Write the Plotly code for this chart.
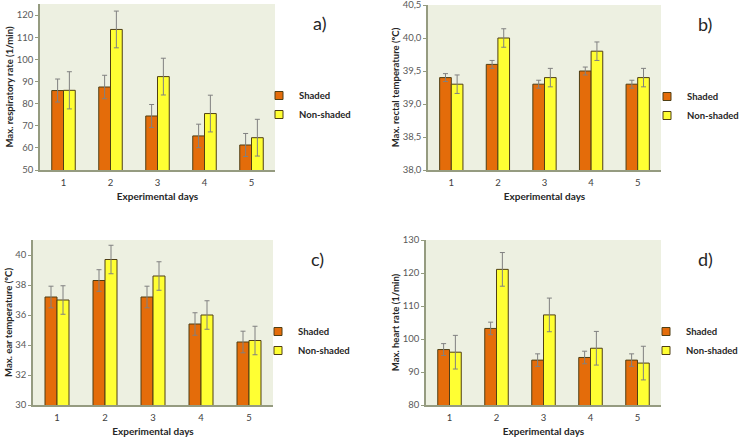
import plotly.graph_objects as go

days = ["1", "2", "3", "4", "5"]

resp_shaded = [85.9, 87.5, 74.4, 65.4, 61.3]
resp_shaded_err = [5.2, 5.3, 5.2, 5.3, 5.2]
resp_non = [86.0, 113.5, 92.2, 75.5, 64.6]
resp_non_err = [8.4, 8.3, 8.3, 8.3, 8.3]

rect_shaded = [39.4, 39.6, 39.3, 39.5, 39.3]
rect_shaded_err = [0.06, 0.06, 0.06, 0.06, 0.06]
rect_non = [39.3, 40.0, 39.4, 39.8, 39.4]
rect_non_err = [0.14, 0.14, 0.14, 0.14, 0.14]

ear_shaded = [37.2, 38.3, 37.2, 35.4, 34.2]
ear_shaded_err = [0.72, 0.72, 0.72, 0.75, 0.72]
ear_non = [37.0, 39.7, 38.6, 36.0, 34.3]
ear_non_err = [0.95, 0.95, 0.95, 0.95, 0.95]

heart_shaded = [96.8, 103.2, 93.6, 94.4, 93.6]
heart_shaded_err = [1.8, 1.9, 1.9, 1.9, 1.9]
heart_non = [96.0, 121.1, 107.3, 97.2, 92.7]
heart_non_err = [5.1, 5.1, 5.1, 5.1, 5.1]

W, H = 740, 439
ORANGE = "#E46C0A"
YELLOW = "#FFFF33"
EDGE = "#4f3f14"
AXIS = "#959b80"
FONT = "Lato"

panels = [
    # shaded, err, non-shaded, err, y title, y range, dtick, format, label, plot box in px (l, r, top, bottom)
    (resp_shaded, resp_shaded_err, resp_non, resp_non_err,
     "Max. respiratory rate (1/min)", [50, 125], 10, None, "a)", (40, 275, 4, 170)),
    (rect_shaded, rect_shaded_err, rect_non, rect_non_err,
     "Max. rectal temperature (ºC)", [38, 40.5], 0.5, ".1f", "b)", (428, 661, 5, 170)),
    (ear_shaded, ear_shaded_err, ear_non, ear_non_err,
     "Max. ear temperature (ºC)", [30, 41], 2, None, "c)", (33, 273, 240, 405)),
    (heart_shaded, heart_shaded_err, heart_non, heart_non_err,
     "Max. heart rate (1/min)", [80, 130], 10, None, "d)", (426, 661, 240, 405)),
]
# where the legend text starts (px)
legend_text_x = [299, 687, 298, 686]

fig = go.Figure()
layout = {}
annotations = []

for i, (s, se, n, ne, ytitle, yr, dt, fmt, label, box) in enumerate(panels):
    k = "" if i == 0 else str(i + 1)
    x0, x1, ytop, ybot = box
    leg = "legend" + k
    for name, vals, errs, col in [("Shaded", s, se, ORANGE), ("Non-shaded", n, ne, YELLOW)]:
        fig.add_trace(go.Bar(
            x=days, y=vals, name=name, xaxis="x" + k, yaxis="y" + k,
            marker=dict(color=col, line=dict(color=EDGE, width=1)),
            error_y=dict(type="data", array=errs, color="#808080", thickness=1, width=2.5),
            offsetgroup=name, showlegend=False,
        ))
        # small square legend entry
        fig.add_trace(go.Scatter(
            x=[None], y=[None], name=name, mode="markers", xaxis="x" + k, yaxis="y" + k,
            marker=dict(symbol="square", size=8, color=col, line=dict(color=EDGE, width=1)),
            legend=leg,
        ))
    layout["xaxis" + k] = dict(
        domain=[x0 / W, x1 / W], anchor="y" + k, type="category",
        showline=True, linecolor=AXIS, linewidth=1.5, ticks="", automargin=False,
        ticklabelstandoff=3,
        tickfont=dict(size=9.5, color="#404040", family=FONT),
        title=dict(text="<b>Experimental days</b>", standoff=6,
                   font=dict(size=10, color="#262626", family=FONT)),
        fixedrange=True,
    )
    yaxis = dict(
        domain=[1 - ybot / H, 1 - ytop / H], anchor="x" + k,
        range=yr, dtick=dt, tick0=yr[0], showgrid=False, zeroline=False,
        showline=True, linecolor=AXIS, linewidth=1.5, automargin=False,
        ticks="outside", ticklen=3, tickcolor=AXIS, ticklabeloverflow="allow",
        tickfont=dict(size=9.5, color="#595959", family=FONT),
        title=dict(text="<b>" + ytitle + "</b>", standoff=1,
                   font=dict(size=9.5, color="#262626", family=FONT)),
        fixedrange=True,
    )
    if fmt:
        yaxis["tickformat"] = fmt
    layout["yaxis" + k] = yaxis
    layout[leg] = dict(
        x=(legend_text_x[i] - 40) / W, y=1 - (ytop + 77) / H,
        xanchor="left", yanchor="top",
        font=dict(size=9.5, color="#262626", family=FONT, weight="bold"),
        bgcolor="rgba(0,0,0,0)", itemwidth=30, tracegroupgap=0,
    )
    annotations.append(dict(
        text=label, x=(x1 + 44) / W, y=1 - (ytop + 19) / H,
        xref="paper", yref="paper", xanchor="center", yanchor="middle",
        showarrow=False, font=dict(size=18, color="#262626", family=FONT),
    ))

fig.update_layout(
    width=W, height=H, margin=dict(l=0, r=0, t=0, b=0, autoexpand=False),
    paper_bgcolor="white", plot_bgcolor="#EDF0E1",
    barmode="group", bargap=0.5, bargroupgap=0,
    separators=",.", showlegend=True,
    annotations=annotations, font=dict(family=FONT),
    **layout,
)

# the page body has a default 8px margin; remove it so the chart sits at the window corner
fig.write_html("out.html", config={"displayModeBar": False},
               post_script="document.body.style.margin='0';")
